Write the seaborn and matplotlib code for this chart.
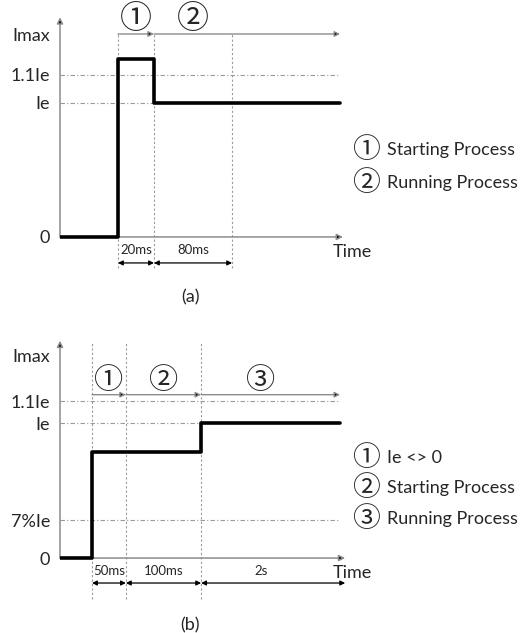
import matplotlib.pyplot as plt
import seaborn as sns

# panel (a): start-up current profile
a_time = [0, 1.61, 2.61, 7.78]
a_level = [0, 1.33, 1.0, 1.0]
a_marks = [1.61, 2.61, 4.78]
a_ticks = [0, 1.0, 1.21, 1.51]
a_ticklabels = ['0', 'Ie', '1.1Ie', 'Imax']
a_guides = [1.0, 1.21]
a_spans = ['20ms', '80ms']
a_phases = ['①', '②']
a_legend = ['Starting Process', 'Running Process']

# panel (b)
b_time = [0, 0.89, 3.92, 7.78]
b_level = [0, 0.785, 1.0, 1.0]
b_marks = [0.89, 1.83, 3.92]
b_ticks = [0, 0.28, 1.0, 1.16, 1.5]
b_ticklabels = ['0', '7%Ie', 'Ie', '1.1Ie', 'Imax']
b_guides = [0.28, 1.0, 1.16]
b_spans = ['50ms', '100ms', '2s']
b_phases = ['①', '②', '③']
b_legend = ['Ie <> 0', 'Starting Process', 'Running Process']

sns.set_theme(style="white")
plt.rcParams['font.family'] = ['Lato', 'Noto Sans CJK JP', 'DejaVu Sans']

W, H = 527, 633
fig = plt.figure(figsize=(W / 100, H / 100), dpi=100)

GRAY = '#8c8c8c'
TXT = '#262626'
CIRC = ['Noto Sans CJK JP', 'DejaVu Sans']


def px_axes(left, top, right, bottom):
    return fig.add_axes([left / W, 1 - bottom / H, (right - left) / W, (bottom - top) / H])


def panel(ax, time, level, marks, ticks, ticklabels, guides, spans, phases,
          xlim, ylim, ytip, mark_top, mark_bot, phase_y, circ_y, circ_size,
          dim_y, lab_y, end, dim_end):
    ax.set_xlim(*xlim)
    ax.set_ylim(*ylim)
    for s in ax.spines.values():
        s.set_visible(False)
    ax.set_xticks([])
    ax.set_yticks(ticks, ticklabels)
    ax.tick_params(axis='y', length=0, pad=7, labelsize=13, labelcolor=TXT)

    # axes with arrows
    ax.annotate('', xy=(0, ytip), xytext=(0, 0),
                arrowprops=dict(arrowstyle='-|>', ec=GRAY, fc='black', lw=1.1, mutation_scale=9, shrinkA=0, shrinkB=0))
    ax.annotate('', xy=(dim_end, 0), xytext=(0, 0),
                arrowprops=dict(arrowstyle='-|>', ec=GRAY, fc='black', lw=1.1, mutation_scale=9, shrinkA=0, shrinkB=0))

    # guide lines
    for g in guides:
        ax.plot([0, end], [g, g], color='#9a9a9a', lw=0.8, ls=(0, (4, 2, 1, 2)), zorder=1)
    for m in marks:
        ax.plot([m, m], [mark_bot, mark_top], color='#9a9a9a', lw=0.8, ls=(0, (2, 2)), zorder=1, clip_on=False)

    # signal
    sns.lineplot(x=time, y=level, drawstyle='steps-post', color='black', lw=2.6, ax=ax, zorder=5, legend=False)

    # phase arrows and circled numbers
    bounds = marks[:len(phases)] + [end]
    for i, p in enumerate(phases):
        x0, x1 = bounds[i], bounds[i + 1]
        ax.annotate('', xy=(x1, phase_y), xytext=(x0, phase_y),
                    arrowprops=dict(arrowstyle='-|>', ec=GRAY, fc='black', lw=1.0, mutation_scale=8, shrinkA=0, shrinkB=0))
        if i + 1 < len(marks):
            cx = (marks[i] + marks[i + 1]) / 2
        else:
            cx = marks[-1] + 1.66
        ax.text(cx, circ_y, p, ha='center', va='center', fontsize=circ_size, color=TXT, family=CIRC)

    # duration arrows
    dbounds = marks[:len(spans)] + ([dim_end] if len(spans) == len(marks) else [marks[len(spans)]])
    for i, s in enumerate(spans):
        x0, x1 = dbounds[i], dbounds[i + 1]
        ax.annotate('', xy=(x1, dim_y), xytext=(x0, dim_y),
                    arrowprops=dict(arrowstyle='<|-|>', color='black', lw=0.9, mutation_scale=7, shrinkA=0, shrinkB=0),
                    annotation_clip=False)
        lx = (x0 + x1) / 2 if i + 1 < len(marks) else x0 + 1.66
        ax.text(lx, lab_y, s, ha='center', va='center', fontsize=9.5, color=TXT)


ax_a = px_axes(60, 10, 352, 275)
panel(ax_a, a_time, a_level, a_marks, a_ticks, a_ticklabels, a_guides, a_spans, a_phases,
      xlim=(0, 8.11), ylim=(-0.284, 1.694), ytip=1.64, mark_top=1.52, mark_bot=-0.23,
      phase_y=1.515, circ_y=1.625, circ_size=23, dim_y=-0.194, lab_y=-0.097, end=7.78, dim_end=7.86)

ax_b = px_axes(60, 338, 352, 603)
panel(ax_b, b_time, b_level, b_marks, b_ticks, b_ticklabels, b_guides, b_spans, b_phases,
      xlim=(0, 8.11), ylim=(-0.333, 1.63), ytip=1.61, mark_top=1.59, mark_bot=-0.30,
      phase_y=1.21, circ_y=1.31, circ_size=21, dim_y=-0.185, lab_y=-0.096, end=7.78, dim_end=7.92)


def ftext(x, y, s, **kw):
    fig.text(x / W, 1 - y / H, s, **kw)


ftext(352, 252, 'Time', ha='center', va='center', fontsize=13, color=TXT)
ftext(352, 573, 'Time', ha='center', va='center', fontsize=13, color=TXT)
ftext(190, 297, '(a)', ha='center', va='center', fontsize=13, color=TXT)
ftext(190, 625, '(b)', ha='center', va='center', fontsize=13, color=TXT)

for i, (lab, y) in enumerate(zip(a_legend, [150, 183])):
    ftext(366, y, a_phases[i], ha='center', va='center', fontsize=20, color=TXT, family=CIRC)
    ftext(387, y, lab, ha='left', va='center', fontsize=13, color=TXT)

for i, (lab, y) in enumerate(zip(b_legend, [458, 488, 519])):
    ftext(366, y, b_phases[i], ha='center', va='center', fontsize=20, color=TXT, family=CIRC)
    ftext(387, y, lab, ha='left', va='center', fontsize=13, color=TXT)

fig.savefig('out.png', dpi=100)
